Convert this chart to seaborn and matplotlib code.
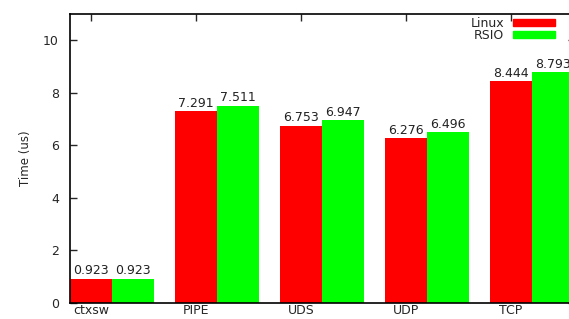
import matplotlib
matplotlib.use("Agg")
import matplotlib.pyplot as plt
import seaborn as sns
import pandas as pd
from matplotlib.patches import Patch

categories = ["ctxsw", "PIPE", "UDS", "UDP", "TCP"]
linux = [0.923, 7.291, 6.753, 6.276, 8.444]
rsio = [0.923, 7.511, 6.947, 6.496, 8.793]
series = ["Linux", "RSIO"]
yticks = [0, 2, 4, 6, 8, 10]

df = pd.DataFrame({
    "cat": categories * 2,
    "val": linux + rsio,
    "sys": [series[0]] * len(categories) + [series[1]] * len(categories),
})

sns.set_style("white")
plt.rcParams['font.family'] = ['DejaVu Sans']

fig = plt.figure(figsize=(5.69, 3.19), dpi=100)
ax = fig.add_axes([70/569, 16/319, 505/569, 289/319])
colors = {"Linux": "#ff0000", "RSIO": "#00ff00"}
sns.barplot(data=df, x="cat", y="val", hue="sys", palette=colors, width=0.8,
            saturation=1, linewidth=0, ax=ax, legend=False, order=categories)

for cont in ax.containers:
    ax.bar_label(cont, fmt="%.3f", fontsize=9, padding=1, color="#222222")

ax.set_ylim(0, 11)
ax.set_xlim(-0.4, 4.41)
ax.set_yticks(yticks)
ax.set_yticklabels([str(t) for t in yticks], fontsize=9)
ax.set_xticks([i - 0.2 for i in range(len(categories))])
ax.set_xticklabels(categories, fontsize=9)
ax.set_xlabel("")
ax.set_ylabel("Time (us)", fontsize=8.5, labelpad=8)
ax.tick_params(axis="y", direction="in", length=5, width=1, left=True, right=True, pad=8)
ax.tick_params(axis="x", direction="in", length=5, width=1, bottom=False, top=True, pad=1)
for s in ax.spines.values():
    s.set_color("black")
    s.set_linewidth(1.2)

handles = [Patch(color=colors[s], label=s) for s in series]
ax.legend(handles=handles, loc="upper right", bbox_to_anchor=(0.978, 1.02), frameon=False,
          markerfirst=False, fontsize=9, handlelength=3.4, handleheight=0.55,
          labelspacing=-0.1, borderaxespad=0.3, handletextpad=0.7)

fig.savefig("out.png", dpi=100)
